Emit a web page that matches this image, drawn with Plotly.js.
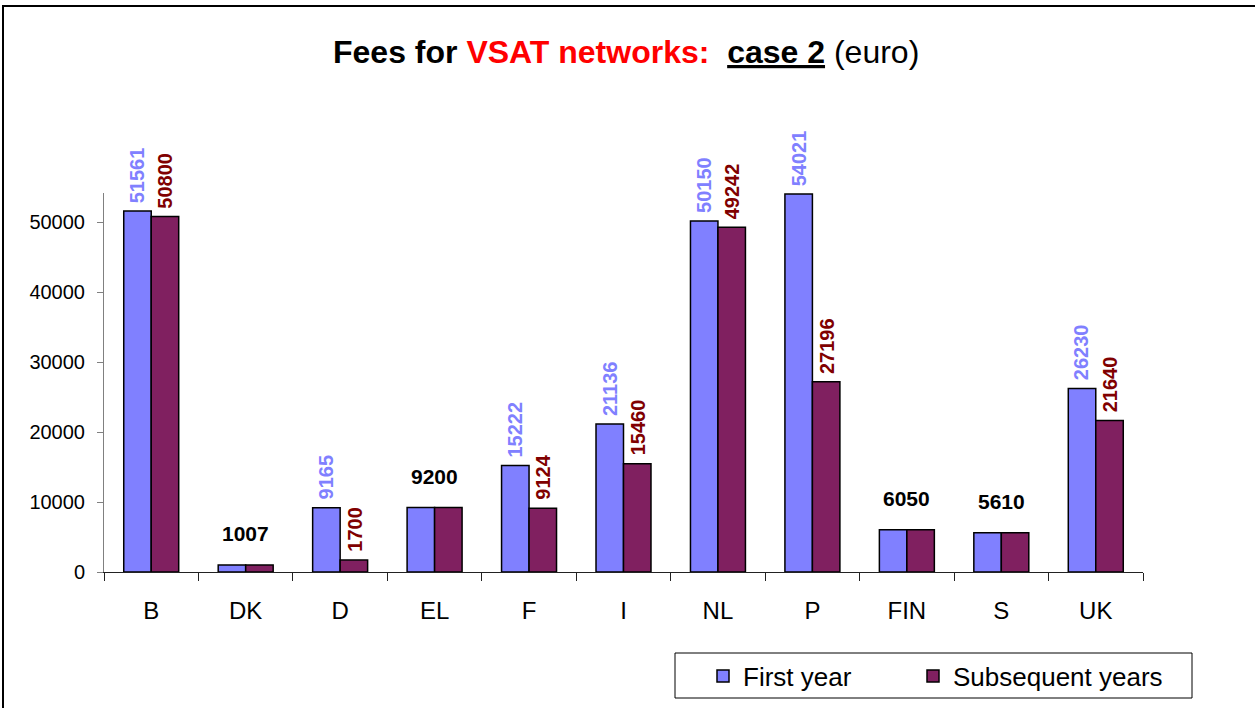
<!DOCTYPE html>
<html>
<head>
<meta charset="utf-8">
<script src="https://cdn.plot.ly/plotly-3.0.1.min.js"></script>
<style>html,body{margin:0;padding:0;background:#fff;}#chart{width:1255px;height:708px;}</style>
</head>
<body>
<div id="chart"></div>
<script>
const categories = ["B","DK","D","EL","F","I","NL","P","FIN","S","UK"];
const firstYear = [51561,1007,9165,9200,15222,21136,50150,54021,6050,5610,26230];
const subsequentYears = [50800,1007,1700,9200,9124,15460,49242,27196,6050,5610,21640];
const yTicks = [0,10000,20000,30000,40000,50000];
const seriesNames = ["First year","Subsequent years"];

const FONT = "Arial, 'Liberation Sans', sans-serif";
const c1 = "#8080FF", c2 = "#802060";
const lab1 = "#8080FF", lab2 = "#800000";

const traces = [
  {type:"bar", name:seriesNames[0], x:categories, y:firstYear, legend:"legend",
   marker:{color:c1, line:{color:"#000", width:1.5}}, hoverinfo:"y"},
  {type:"bar", name:seriesNames[1], x:categories, y:subsequentYears, legend:"legend2",
   marker:{color:c2, line:{color:"#000", width:1.5}}, hoverinfo:"y"}
];

const annotations = [];
categories.forEach((c,i)=>{
  const a = firstYear[i], b = subsequentYears[i];
  if (a === b) {
    annotations.push({x:c, y:a, xref:"x", yref:"y", text:"<b>"+a+"</b>", showarrow:false,
      yanchor:"bottom", xanchor:"center", yshift:18, font:{family:FONT, size:21, color:"#000"}});
  } else {
    annotations.push({x:c, y:a, xref:"x", yref:"y", text:"<b>"+a+"</b>", showarrow:false,
      textangle:-90, yanchor:"bottom", xanchor:"center", xshift:-14, yshift:6,
      font:{family:FONT, size:20, color:lab1}});
    annotations.push({x:c, y:b, xref:"x", yref:"y", text:"<b>"+b+"</b>", showarrow:false,
      textangle:-90, yanchor:"bottom", xanchor:"center", xshift:14, yshift:6,
      font:{family:FONT, size:20, color:lab2}});
  }
});

annotations.push({xref:"paper", yref:"paper", x:(626-104)/1039, y:(572-52)/379, xanchor:"center", yanchor:"middle",
  showarrow:false, font:{family:FONT, size:32, color:"#000"},
  text:"<b>Fees for <span style='color:#FF0000'>VSAT networks:</span>  <u>case 2</u></b> (euro)"});

const legendBase = {orientation:"h", xanchor:"left", y:(572-676)/379, yanchor:"middle",
  borderwidth:0, bgcolor:"rgba(0,0,0,0)", font:{family:FONT, size:26, color:"#000"}, itemclick:false};

const layout = {
  width:1255, height:708,
  margin:{l:104, r:112, t:193, b:136, autoexpand:false},
  paper_bgcolor:"#fff", plot_bgcolor:"#fff",
  font:{family:FONT, color:"#000"},
  barmode:"group", bargap:0.418, bargroupgap:0,
  showlegend:true,
  legend:Object.assign({}, legendBase, {x:(703-104)/1039}),
  legend2:Object.assign({}, legendBase, {x:(913-104)/1039}),
  xaxis:{type:"category", showgrid:false, showline:true, linecolor:"#222", linewidth:1,
    ticks:"outside", tickson:"boundaries", ticklen:8, tickcolor:"#222",
    tickfont:{family:FONT, size:24, color:"#000"}, ticklabelstandoff:17, zeroline:false},
  yaxis:{range:[0,54150], showgrid:false, showline:true, linecolor:"#808080", linewidth:1,
    ticks:"outside", ticklen:6, tickcolor:"#808080", tickvals:yTicks, ticktext:yTicks.map(String),
    tickfont:{family:FONT, size:20, color:"#000"}, ticklabelstandoff:8, zeroline:false},
  annotations:annotations,
  shapes:[
    {type:"rect", xref:"paper", yref:"paper", x0:(3-104)/1039, x1:(1262-104)/1039,
     y0:(572-714)/379, y1:(572-6)/379, line:{color:"#000", width:2}, fillcolor:"rgba(0,0,0,0)", layer:"below"},
    {type:"rect", xref:"paper", yref:"paper", x0:(675-104)/1039, x1:(1192-104)/1039,
     y0:(572-698)/379, y1:(572-653)/379, line:{color:"#000", width:1}, fillcolor:"#fff", layer:"below"}
  ]
};

Plotly.newPlot("chart", traces, layout, {displayModeBar:false, staticPlot:true});
</script>
</body>
</html>
